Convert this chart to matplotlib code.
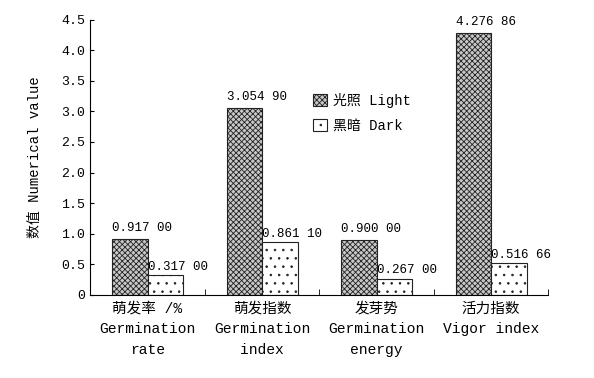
import numpy as np
import matplotlib
matplotlib.use('Agg')
from matplotlib import pyplot as plt

plt.rcParams['font.family'] = ['Liberation Mono', 'Noto Sans CJK SC']
plt.rcParams['hatch.linewidth'] = 0.6

categories = ['萌发率 /%\nGermination\nrate', '萌发指数\nGermination\nindex',
              '发芽势\nGermination\nenergy', '活力指数\nVigor index']
light = [0.917, 3.0549, 0.900, 4.27686]
dark = [0.317, 0.8611, 0.267, 0.51666]
light_labels = ['0.917 00', '3.054 90', '0.900 00', '4.276 86']
dark_labels = ['0.317 00', '0.861 10', '0.267 00', '0.516 66']
yticks = [0, 0.5, 1.0, 1.5, 2.0, 2.5, 3.0, 3.5, 4.0, 4.5]
ytick_labels = ['0', '0.5', '1.0', '1.5', '2.0', '2.5', '3.0', '3.5', '4.0', '4.5']

fig = plt.figure(figsize=(5.94, 3.78), dpi=100)
ax = fig.add_axes([0.152, 0.22, 0.771, 0.728])

x = np.arange(len(categories))
w = 0.31
ax.bar(x - w / 2, light, w, color='#c8c8c8', edgecolor='#222222',
       hatch='xxxxxx', linewidth=0.8, label='光照 Light')
ax.bar(x + w / 2, dark, w, color='white', edgecolor='#222222',
       hatch='..', linewidth=0.8, label='黑暗 Dark')

for i in range(len(x)):
    ax.text(x[i] - w, light[i] + 0.08, light_labels[i], fontsize=9, ha='left', va='bottom')
    ax.text(x[i], dark[i] + 0.04, dark_labels[i], fontsize=9, ha='left', va='bottom')

ax.set_xlim(-0.5, 3.5)
ax.set_ylim(0, 4.5)
ax.set_yticks(yticks)
ax.set_yticklabels(ytick_labels, fontsize=9.5)
ax.set_xticks(x)
ax.set_xticklabels(categories, fontsize=10.5, linespacing=1.6)
ax.tick_params(axis='x', length=0, pad=5)
ax.set_xticks([0.5, 1.5, 2.5, 3.5], minor=True)
ax.tick_params(axis='x', which='minor', direction='in', length=4)
ax.tick_params(axis='y', direction='in', length=3)
ax.spines['top'].set_visible(False)
ax.spines['right'].set_visible(False)
ax.set_ylabel('数值 Numerical value', fontsize=10, labelpad=14)

ax.legend(loc='upper left', bbox_to_anchor=(0.46, 0.78), frameon=False, fontsize=10,
          handlelength=1.0, handleheight=1.0, labelspacing=0.8, handletextpad=0.4)

fig.savefig('out.png', dpi=100)
